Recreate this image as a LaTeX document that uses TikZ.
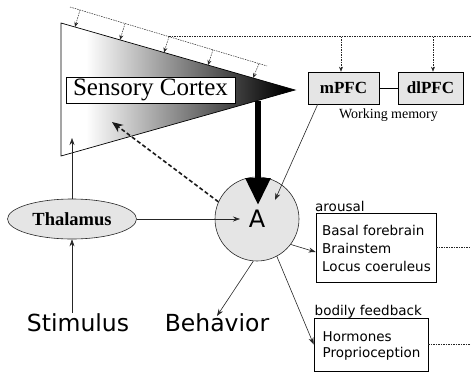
\documentclass[tikz,border=0pt]{standalone}
\usepackage{fontspec}
\setmainfont{Liberation Serif}
\newfontfamily\labelsans{DejaVu Sans}
\usetikzlibrary{arrows.meta,shapes.geometric}
\definecolor{boxgray}{gray}{0.9}
\definecolor{inkgray}{gray}{0.15}
\begin{document}
\begin{tikzpicture}[x=1pt,y=-1pt,
  thin arrow/.style={draw=inkgray, line width=0.6pt, -{Stealth[length=7pt,width=5pt]}},
  feed line/.style={draw=inkgray, line width=0.5pt, dash pattern=on 1.5pt off 1pt},
  feed arrow/.style={feed line, -{Stealth[length=5pt,width=4pt]}},
  region box/.style={draw, line width=0.6pt, fill=boxgray, minimum height=32pt, inner sep=0pt,
    font=\fontsize{17}{17}\selectfont\bfseries},
  list box/.style={draw, line width=0.6pt, fill=white, inner sep=0pt},
  list text/.style={anchor=north west, align=left, inner sep=0pt},
  big label/.style={anchor=base, inner sep=0pt, font=\labelsans\fontsize{23.5}{24}\selectfont},
  small label/.style={anchor=base west, inner sep=0pt, font=\labelsans\fontsize{13.5}{16}\selectfont}
]
\useasboundingbox (0,0) rectangle (471,373);

% ---- sensory cortex wedge with its shading ----
\coordinate (tl) at (61,23);
\coordinate (tip) at (295,90);
\coordinate (bl) at (61,156);
\fill[white] (tl) -- (tip) -- (bl) -- cycle;
\begin{scope}
  \clip (tl) -- (tip) -- (bl) -- cycle;
  \shade[left color=white, right color=black] (86,15) rectangle (285,165);
  \fill[black] (284.5,15) rectangle (300,165);
\end{scope}
\draw[line width=0.7pt] (tl) -- (tip) -- (bl) -- cycle;

\node[draw, line width=0.6pt, fill=white, minimum width=169pt, minimum height=26pt, inner sep=0pt,
  font=\fontsize{25}{25}\selectfont] (sc) at (150.5,90) {Sensory Cortex};

% ---- top-down feedback line along the cortex ----
\coordinate (fb0) at (70,7);
\coordinate (fb1) at (267,66);
\coordinate (s1) at (80,10.0);   \coordinate (e1) at (75,27.0);
\coordinate (s2) at (125,23.5);  \coordinate (e2) at (120,39.9);
\coordinate (s3) at (169,36.6);  \coordinate (e3) at (164,52.5);
\coordinate (s4) at (213,49.8);  \coordinate (e4) at (208,65.1);
\coordinate (s5) at (259,63.6);  \coordinate (e5) at (253,78.0);
\draw[feed line] (fb0) -- (fb1);
\foreach \i in {1,...,5} \draw[feed arrow] (s\i) -- (e\i);

% ---- prefrontal regions ----
\node[region box, minimum width=71pt] (mpfc) at (343.5,88) {mPFC};
\node[region box, minimum width=65pt] (dlpfc) at (430.5,88) {dlPFC};
\draw[line width=0.6pt] (mpfc.east) -- (dlpfc.west);
\node[anchor=base, inner sep=0pt, font=\fontsize{14}{14}\selectfont] (wm) at (388.5,118) {Working memory};

\coordinate (fbEnd) at (471,36.6);
\coordinate (h1) at (341,36.6);
\coordinate (h2) at (433,36.6);
\draw[feed line] (s3) -- (fbEnd);
\draw[feed arrow] (h1) -- (h1 |- mpfc.north);
\draw[feed arrow] (h2) -- (h2 |- dlpfc.north);

% ---- amygdala and thalamus ----
\node[circle, draw=inkgray, line width=0.6pt, fill=boxgray, minimum size=84pt, inner sep=0pt,
  font=\labelsans\fontsize{24}{24}\selectfont] (A) at (257,219) {A};
\node[ellipse, draw=inkgray, line width=0.6pt, fill=boxgray, minimum width=129pt, minimum height=40pt,
  inner sep=0pt, font=\fontsize{18.5}{18.5}\selectfont\bfseries] (thal) at (72,219) {Thalamus};

\node[big label] (stim) at (78,331) {Stimulus};
\node[big label] (behav) at (217,331) {Behavior};

% ---- output systems ----
\node[list box, minimum width=120pt, minimum height=69pt] (arous) at (376,247.5) {};
\node[small label] (arousT) at (315,211) {arousal};
\node[list text, font=\labelsans\fontsize{13.5}{18.2}\selectfont] (arousL) at (322,224.6)
  {Basal forebrain\\Brainstem\\Locus coeruleus};

\node[list box, minimum width=114pt, minimum height=53pt] (bodily) at (371,344.5) {};
\node[small label] (bodilyT) at (314.5,315) {bodily feedback};
\node[list text, font=\labelsans\fontsize{13.5}{16}\selectfont] (bodilyL) at (322.5,331.6)
  {Hormones\\Proprioception};

\draw[feed line] (arous.east) -- (arous.east -| fbEnd);
\draw[feed line] (bodily.east) -- (bodily.east -| fbEnd);

% ---- connections ----
\coordinate (cortIn) at (72,138);
\coordinate (cortOut) at (258,100.5);
\coordinate (aTop) at (258,205);
\coordinate (aIn) at (240,219);
\coordinate (aM) at (275,200);
\coordinate (cortDash) at (112,122);

\draw[thin arrow] (thal.south |- stim.north) -- (thal.south);
\draw[thin arrow] (thal.north) -- (cortIn);
\draw[thin arrow] (thal.east) -- (aIn);
\draw[thin arrow] ([xshift=10pt]mpfc.south west) -- (aM);
\draw[thin arrow] (A.-95) -- ([yshift=-3pt]behav.north);
\draw[thin arrow] (A.-37) -- ([yshift=-4.5pt]arous.west);
\draw[thin arrow] (A.-62) -- (bodily.west);
\draw[draw=black!90, line width=1.6pt, dash pattern=on 4pt off 2.5pt,
  -{Stealth[length=11pt,width=9pt]}] (A.156) -- (cortDash);
\draw[line width=6pt, -{Triangle[length=27pt,width=24pt]}] (cortOut) -- (aTop);
\end{tikzpicture}
\end{document}
